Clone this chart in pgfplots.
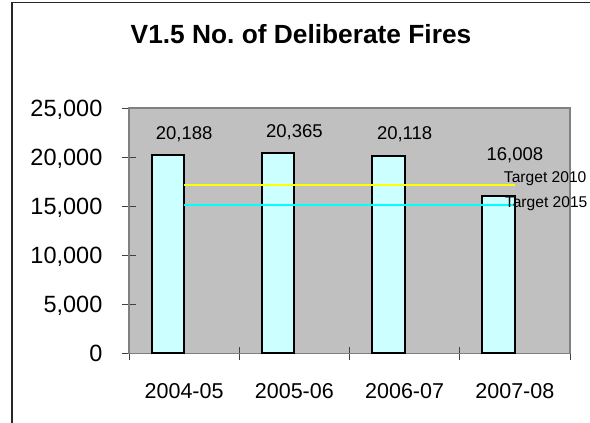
\documentclass[border=0pt]{standalone}
\usepackage{fontspec}
\setmainfont{Liberation Sans}
\usepackage{pgfplots}
\pgfplotsset{compat=1.18}
\definecolor{plotbg}{HTML}{C0C0C0}
\definecolor{barfill}{HTML}{CCFFFF}
\definecolor{framegray}{HTML}{808080}
\definecolor{tyellow}{HTML}{FFFF00}
\definecolor{tcyan}{HTML}{00FFFF}

\begin{document}
\begin{tikzpicture}
\useasboundingbox (0,0) rectangle (590bp,423bp);
\draw[line width=1.4bp, black!85] (12bp,0) -- (12bp,420.3bp) -- (590bp,420.3bp);
\node[anchor=base, inner sep=0pt, font=\fontsize{26.3bp}{31bp}\selectfont\bfseries] at (301bp,379.7bp) {V1.5 No.\ of Deliberate Fires};
\begin{axis}[
  scale only axis, width=441bp, height=245.3bp,
  at={(129bp,69.7bp)}, anchor=south west,
  xmin=0, xmax=4, ymin=0, ymax=25000,
  clip=false,
  axis background/.style={fill=plotbg},
  axis line style={draw=framegray, line width=1.2bp},
  xtick={0.5,1.5,2.5,3.5},
  xticklabels={2004-05,2005-06,2006-07,2007-08},
  major x tick style={draw=none},
  minor xtick={0,1,2,3,4},
  ytick={0,5000,10000,15000,20000,25000},
  scaled y ticks=false,
  tick align=center,
  major tick length=13.5bp, minor tick length=13.5bp,
  tick style={draw=black!75, line width=0.9bp},
  xtick pos=bottom, ytick pos=left,
  /pgf/number format/1000 sep={,},
  /pgf/number format/assume math mode=true,
  yticklabel style={font=\fontsize{23.5bp}{28bp}\selectfont, anchor=base east, inner sep=0pt, xshift=-19.7bp, yshift=-8.35bp},
  xticklabel style={font=\fontsize{21.5bp}{26bp}\selectfont, anchor=base, inner sep=0pt, yshift=-38.4bp},
]
\addplot[ybar, bar width=32.5bp, bar shift=-16.25bp, fill=barfill, draw=black, line width=2bp,
  nodes near coords,
  nodes near coords style={font=\fontsize{18.5bp}{22bp}\selectfont, anchor=base, inner sep=0pt, yshift=16bp, text=black}]
  coordinates {(0.5,20188) (1.5,20365) (2.5,20118)};
\addplot[ybar, bar width=32.5bp, bar shift=-16.25bp, fill=barfill, draw=black, line width=2bp,
  nodes near coords,
  nodes near coords style={font=\fontsize{18.5bp}{22bp}\selectfont, anchor=base, inner sep=0pt, yshift=36bp, text=black}]
  coordinates {(3.5,16008)};
\addplot[draw=tyellow, line width=2.2bp] coordinates {(0.5,17170) (3.5,17170)}
  node[pos=1, anchor=base west, inner sep=0pt, xshift=-12bp, yshift=2.6bp, text=black, font=\fontsize{15.6bp}{19bp}\selectfont] {Target 2010};
\addplot[draw=tcyan, line width=2.2bp] coordinates {(0.5,15130) (3.5,15130)}
  node[pos=1, anchor=base west, inner sep=0pt, xshift=-11bp, yshift=-2.4bp, text=black, font=\fontsize{15.6bp}{19bp}\selectfont] {Target 2015};
\end{axis}
\end{tikzpicture}
\end{document}
